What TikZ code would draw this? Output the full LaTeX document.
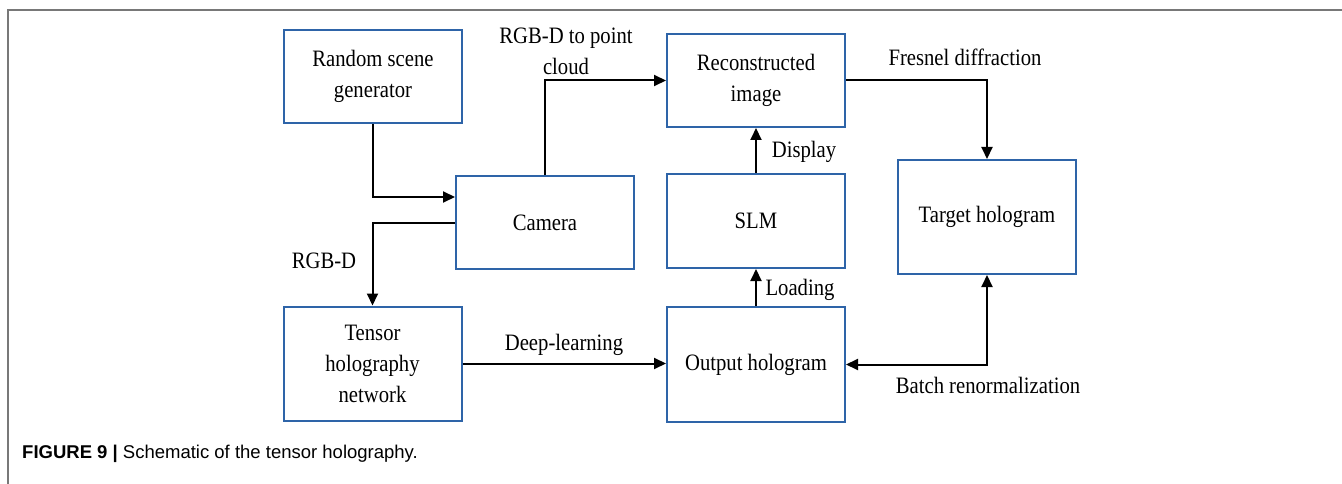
\documentclass[tikz,border=0pt]{standalone}
\usepackage{fontspec}
\setmainfont[FakeStretch=0.88]{Liberation Serif}
\newfontfamily\capfont{Liberation Sans}
\usepackage{xcolor}
\usetikzlibrary{arrows.meta,positioning}

\definecolor{boxblue}{RGB}{46,100,168}
\definecolor{framegray}{RGB}{120,120,120}

\tikzset{
    blk/.style={draw=boxblue, line width=2pt, minimum width=178pt, inner sep=0pt,
        align=center, font=\fontsize{23.5}{31}\selectfont},
    lbl/.style={align=center, inner sep=0pt, font=\fontsize{23.5}{31}\selectfont},
    arr/.style={line width=2pt, -{Triangle[length=12pt,width=11pt]}},
    dblarr/.style={line width=2pt, {Triangle[length=12pt,width=11pt]}-{Triangle[length=12pt,width=11pt]}}
}

\begin{document}
\begin{tikzpicture}[x=1pt,y=-1pt]
                \useasboundingbox (0,0) rectangle (1342,484);
                % frame lines
                \draw[framegray, line width=1.5pt] (8,484) -- (8,10) -- (1342,10);

                % blocks
                \node[blk, minimum height=93pt] (rand) at (373,76.5) {Random scene\\generator};
                \node[blk, minimum height=93pt] (recon) at (756,80.5) {Reconstructed\\image};
                \node[blk, minimum height=93pt] (cam) at (545,222.5) {Camera};
                \node[blk, minimum height=94pt] (slm) at (756,221) {SLM};
                \node[blk, minimum height=114pt] (target) at (987,217) {Target hologram};
                \node[blk, minimum height=114pt] (tensor) at (372.5,363.5) {Tensor\\holography\\network};
                \node[blk, minimum height=115pt] (out) at (756,364.5) {Output hologram};

                % labels on the connectors
                \node[lbl] (lpc) at (566,51) {RGB-D to point\\cloud};
                \node[lbl] (lfres) at (965,57) {Fresnel diffraction};
                \node[lbl] (ldisp) at (804,152) {Display};
                \node[lbl] (lrgbd) at (324,261) {RGB-D};
                \node[lbl] (lload) at (800,290) {Loading};
                \node[lbl] (ldeep) at (564,345) {Deep-learning};
                \node[lbl] (lbatch) at (988,385) {Batch renormalization};

                % connectors
                \draw[arr] (rand.south) |- ([yshift=25.5pt]cam.west);
                \draw[arr] (cam.west) -| (tensor.north);
                \draw[arr] (cam.north) |- (recon.west);
                \draw[arr] (recon.east) -| (target.north);
                \draw[arr] (slm.north) -- (recon.south);
                \draw[arr] (out.north) -- (slm.south);
                \draw[arr] (tensor.east) -- (tensor.east -| out.west);
                \draw[dblarr] (out.east) -| (target.south);

                % caption
                \node[anchor=base west, inner sep=0pt, font=\capfont\fontsize{18.5}{22}\selectfont]
                    (cap) at (22,458) {\textbf{FIGURE 9 |} Schematic of the tensor holography.};
            \end{tikzpicture}
\end{document}
